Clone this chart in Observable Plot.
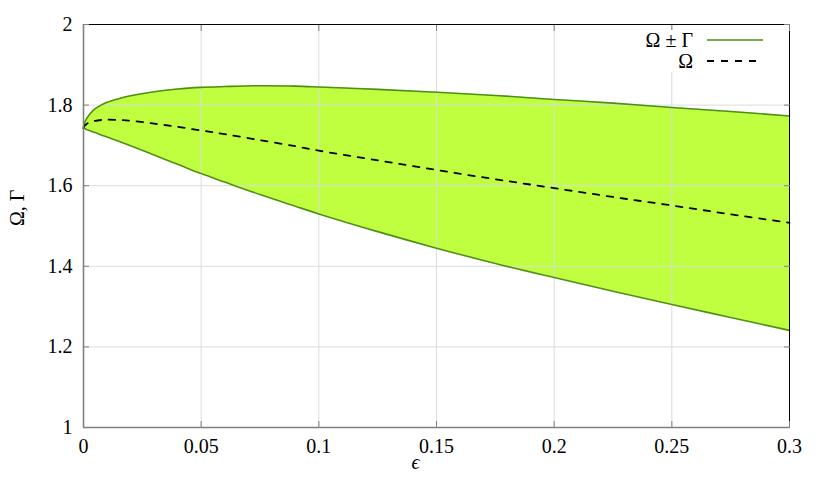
<!DOCTYPE html>
<html><head><meta charset="utf-8">
<script src="https://cdn.jsdelivr.net/npm/d3@7"></script>
<script src="https://cdn.jsdelivr.net/npm/@observablehq/plot@0.6"></script>
<style>
body{margin:0;background:#fff;}
#wrap{position:relative;width:830px;height:485px;}
#legend{position:absolute;left:628px;top:30px;}
</style></head><body><div id="wrap"></div>
<script>
const eps   = [0, 0.0005, 0.0015, 0.003, 0.005, 0.0075, 0.01, 0.015, 0.02, 0.03, 0.04, 0.05, 0.06, 0.075, 0.09, 0.1, 0.125, 0.15, 0.175, 0.2, 0.225, 0.25, 0.275, 0.3];
const upper = [1.743, 1.757, 1.768, 1.780, 1.791, 1.800, 1.807, 1.816, 1.823, 1.833, 1.840, 1.844, 1.846, 1.848, 1.847, 1.845, 1.839, 1.832, 1.824, 1.814, 1.805, 1.794, 1.784, 1.773];
const lower = [1.743, 1.742, 1.739, 1.736, 1.732, 1.726, 1.721, 1.710, 1.699, 1.676, 1.653, 1.630, 1.609, 1.578, 1.549, 1.530, 1.486, 1.445, 1.407, 1.372, 1.338, 1.305, 1.273, 1.241];
const omega = [1.743, 1.749, 1.754, 1.758, 1.761, 1.763, 1.764, 1.763, 1.761, 1.754, 1.746, 1.737, 1.728, 1.713, 1.698, 1.687, 1.663, 1.639, 1.616, 1.594, 1.572, 1.551, 1.529, 1.508];
const xTicks = [0, 0.05, 0.1, 0.15, 0.2, 0.25, 0.3];
const yTicks = [1, 1.2, 1.4, 1.6, 1.8, 2];
const legendLabels = ["Ω ± Γ", "Ω"];
const xLabel = "ϵ";
const yLabel = "Ω, Γ";

const green = "#4f8f17";
const fillC = "#bfff3f";
const axisGray = "#808080";
const gridC = "#dcdcdc";
const font = "'Liberation Serif', 'DejaVu Serif', serif";

const data = eps.map((e, i) => ({eps: e, upper: upper[i], lower: lower[i], omega: omega[i]}));
const curve = "catmull-rom";

const plot = Plot.plot({
  width: 830, height: 485,
  marginLeft: 83, marginRight: 41, marginTop: 24, marginBottom: 58,
  style: {fontFamily: font, fontSize: "20px", color: "black", background: "white", overflow: "visible"},
  x: {domain: [0, 0.3]},
  y: {domain: [1, 2]},
  marks: [
    Plot.areaY(data, {x: "eps", y1: "lower", y2: "upper", fill: fillC, curve}),
    Plot.gridX(xTicks, {stroke: gridC, strokeOpacity: 1}),
    Plot.gridY(yTicks, {stroke: gridC, strokeOpacity: 1}),
    Plot.lineY(data, {x: "eps", y: "upper", stroke: green, strokeWidth: 1.6, curve}),
    Plot.lineY(data, {x: "eps", y: "lower", stroke: green, strokeWidth: 1.6, curve}),
    Plot.lineY(data, {x: "eps", y: "omega", stroke: "black", strokeWidth: 1.8, strokeDasharray: "6.5,7.5", curve}),
    Plot.frame({stroke: "black", strokeWidth: 1}),
    Plot.axisX(xTicks, {anchor: "bottom", tickSize: -6, text: null, stroke: axisGray, label: null}),
    Plot.axisX(xTicks, {anchor: "top", tickSize: -6, text: null, stroke: axisGray, label: null}),
    Plot.axisY(yTicks, {anchor: "left", tickSize: -6, text: null, stroke: axisGray, label: null}),
    Plot.axisY(yTicks, {anchor: "right", tickSize: -6, text: null, stroke: axisGray, label: null}),
    Plot.ruleX([0], {stroke: axisGray, strokeWidth: 1.6}),
    Plot.ruleY([1], {stroke: axisGray, strokeWidth: 1.6}),
    Plot.axisX(xTicks, {anchor: "bottom", tickSize: 0, tickPadding: 11, tickFormat: d => String(d), label: null, fill: "black"}),
    Plot.axisY(yTicks, {anchor: "left", tickSize: 0, tickPadding: 11, tickFormat: d => String(d), label: null, fill: "black"}),
    Plot.text([xLabel], {frameAnchor: "bottom", dx: -21, dy: 41, fontStyle: "italic", fontSize: 20, fill: "black"}),
    Plot.text([yLabel], {frameAnchor: "left", dx: -66, rotate: -90, fontSize: 20, fill: "black"})
  ]
});
const wrap = document.getElementById("wrap");
wrap.appendChild(plot);

// legend
const lg = d3.select(wrap).append("svg").attr("id", "legend")
  .attr("width", 152).attr("height", 42)
  .style("background", "white")
  .style("font-family", font).style("font-size", "20px");
const rows = [
  {label: legendLabels[0], stroke: green, dash: null, w: 1.6, len: 56},
  {label: legendLabels[1], stroke: "black", dash: "7,7", w: 1.8, len: 50}
];
rows.forEach((r, i) => {
  const cy = 10 + i * 21;
  lg.append("text").attr("x", 65).attr("y", cy).attr("dy", "0.35em")
    .attr("text-anchor", "end").text(r.label);
  const ln = lg.append("line").attr("x1", 79).attr("x2", 79 + r.len).attr("y1", cy).attr("y2", cy)
    .attr("stroke", r.stroke).attr("stroke-width", r.w);
  if (r.dash) ln.attr("stroke-dasharray", r.dash);
});
</script></body></html>
